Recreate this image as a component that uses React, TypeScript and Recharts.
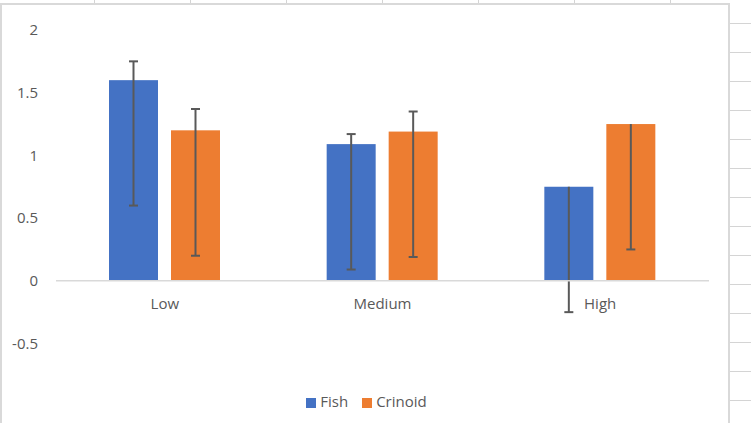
import React from 'react';
import { BarChart, Bar, XAxis, YAxis, Legend, ReferenceLine } from 'recharts';

const categories = ['Low', 'Medium', 'High'];
const seriesNames = ['Fish', 'Crinoid'];
const fishValues = [1.6, 1.09, 0.75];
const crinoidValues = [1.2, 1.19, 1.25];
const fishErrPlus = [0.15, 0.08, 0];
const fishErrMinus = [1.0, 1.0, 1.0];
const crinoidErrPlus = [0.17, 0.16, 0];
const crinoidErrMinus = [1.0, 1.0, 1.0];
const yTicks = [-0.5, 0, 0.5, 1, 1.5, 2];

const data = categories.map((name, i) => ({
  name,
  Fish: fishValues[i],
  Crinoid: crinoidValues[i],
  fishPlus: fishErrPlus[i],
  fishMinus: fishErrMinus[i],
  crinoidPlus: crinoidErrPlus[i],
  crinoidMinus: crinoidErrMinus[i],
}));

const FONT = '"Open Sans", "Noto Sans", sans-serif';
const TEXT = '#595959';

const makeShape = (key: string, plusKey: string, minusKey: string) => (props: any) => {
  const { x, y, width, height, fill, payload } = props;
  const v = payload[key];
  const ppu = height / v;
  const base = y + height;
  const cx = x + width / 2;
  const plus = payload[plusKey];
  const minus = payload[minusKey];
  const yHigh = base - (v + plus) * ppu;
  const yLow = base - (v - minus) * ppu;
  const cap = 4.5;
  return (
    <g>
      <rect x={x} y={y} width={width} height={height} fill={fill} />
      <line x1={cx} x2={cx} y1={yHigh} y2={yLow} stroke="#595959" strokeWidth={2} />
      <line x1={cx - cap} x2={cx + cap} y1={yLow} y2={yLow} stroke="#595959" strokeWidth={2} />
      {plus > 0 && (
        <line x1={cx - cap} x2={cx + cap} y1={yHigh} y2={yHigh} stroke="#595959" strokeWidth={2} />
      )}
    </g>
  );
};

const CatTick = (props: any) => {
  const { x, y, payload } = props;
  return (
    <text x={x} y={y - 43} textAnchor="middle" fill={TEXT} fontSize={15} fontFamily={FONT}>
      {payload.value}
    </text>
  );
};

const vLines = [94, 190, 286, 382, 478, 574, 670];
const hLines = [23, 52, 81, 110, 139, 168, 197, 226, 255, 284, 313, 342, 371, 400];

export default function App() {
  return (
    <div style={{ position: 'absolute', left: 0, top: 0, width: 751, height: 423, background: '#fff', overflow: 'hidden' }}>
      {vLines.map((x) => (
        <div key={'v' + x} style={{ position: 'absolute', left: x, top: 0, width: 1, height: 4, background: '#d4d4d4' }} />
      ))}
      {hLines.map((y) => (
        <div key={'h' + y} style={{ position: 'absolute', left: 730, top: y, width: 21, height: 1, background: '#d4d4d4' }} />
      ))}
      <div style={{ position: 'absolute', left: 0, top: 3, width: 730, height: 440, boxSizing: 'border-box', borderLeft: '2px solid #d9d9d9', borderTop: '2px solid #d9d9d9', borderRight: '2px solid #d9d9d9' }} />
      <div style={{ position: 'absolute', left: 0, top: 0 }}>
        <BarChart
          width={730}
          height={423}
          data={data}
          margin={{ top: 30, right: 21, left: 0, bottom: 59.5 }}
          barSize={49}
          barGap={13}
        >
          <XAxis dataKey="name" axisLine={false} tickLine={false} height={20} tick={<CatTick />} interval={0} />
          <YAxis
            domain={[-0.5, 2]}
            ticks={yTicks}
            axisLine={false}
            tickLine={false}
            width={56}
            tickMargin={12}
            tick={{ fill: TEXT, fontSize: 15, fontFamily: FONT }}
          />
          <ReferenceLine y={0} stroke="#d9d9d9" strokeWidth={1.5} />
          <Bar dataKey="Fish" fill="#4472C4" isAnimationActive={false} shape={makeShape('Fish', 'fishPlus', 'fishMinus')} />
          <Bar dataKey="Crinoid" fill="#ED7D31" isAnimationActive={false} shape={makeShape('Crinoid', 'crinoidPlus', 'crinoidMinus')} />
          <Legend
            layout="horizontal"
            verticalAlign="middle"
            align="center"
            iconType="square"
            iconSize={10}
            itemSorter={(item: any) => seriesNames.indexOf(item.value)}
            wrapperStyle={{ top: 391, left: 19, fontFamily: FONT, fontSize: 15 }}
            formatter={(value: string) => <span style={{ color: TEXT, marginRight: 4 }}>{value}</span>}
          />
        </BarChart>
      </div>
    </div>
  );
}
